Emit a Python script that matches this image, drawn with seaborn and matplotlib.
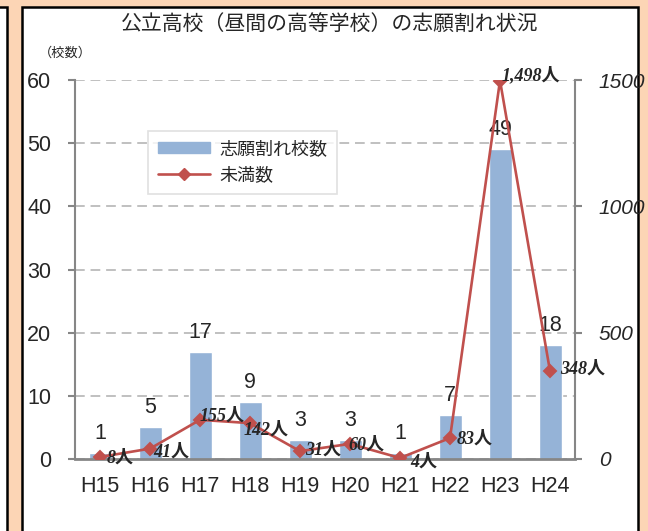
import matplotlib.pyplot as plt
import seaborn as sns
from matplotlib.lines import Line2D
from matplotlib.patches import Patch, Rectangle

# %% data
years = ["H15", "H16", "H17", "H18", "H19", "H20", "H21", "H22", "H23", "H24"]
schools = [1, 5, 17, 9, 3, 3, 1, 7, 49, 18]  # 志願割れ校数
shortfall = [8, 41, 155, 142, 31, 60, 4, 83, 1498, 348]  # 未満数 (人)
shortfall_labels = ["8人", "41人", "155人", "142人", "31人", "60人", "4人", "83人", "1,498人", "348人"]

# where each 人 label sits next to its point (pixels: right, down)
label_nudge = [(7, 1), (3, 3), (0, -4), (-6, 7), (5, -1), (-2, 1), (10, 4), (7, 1), (2, -5), (10, -2)]

bar_color = "#95B3D7"
line_color = "#C0504D"
axis_gray = "#868686"

# %%
sns.set_theme(style="white")
plt.rcParams["font.family"] = ["Liberation Sans", "Noto Sans CJK JP"]

fig = plt.figure(figsize=(6.48, 5.31), dpi=100)
fig.patch.set_facecolor("#FCD5B5")
W, H = 648, 531

# white panels with black outlines (main one and the neighbour on the left)
fig.add_artist(Rectangle((21.5 / W, -0.1), (638 - 21.5) / W, 1.1 - 7 / H,
                         transform=fig.transFigure, facecolor="white",
                         edgecolor="black", lw=1.8, zorder=-1))
fig.add_artist(Rectangle((-0.1, -0.1), 0.1 + 6.5 / W, 1.1 - 7 / H,
                         transform=fig.transFigure, facecolor="white",
                         edgecolor="black", lw=1.8, zorder=-1))

ax = fig.add_axes([75 / W, (H - 459) / H, 500 / W, 379 / H])
ax.patch.set_alpha(0)

sns.barplot(x=years, y=schools, color=bar_color, width=0.46, saturation=1, ax=ax)
ax.set_ylim(0, 60)
ax.set_yticks(range(0, 61, 10))
ax.set_axisbelow(True)
ax.yaxis.grid(True, linestyle=(0, (5, 3)), color="#C0C0C0", linewidth=1.4)
ax.xaxis.grid(False)
for c in ax.containers:
    ax.bar_label(c, padding=6.5, fontsize=15.5)

ax2 = ax.twinx()
sns.pointplot(x=years, y=shortfall, color=line_color, markers="D", linestyles="-",
              errorbar=None, markersize=6, linewidth=1.9, ax=ax2)
ax2.set_ylim(0, 1500)
ax2.set_yticks([0, 500, 1000, 1500])
for i, lab in enumerate(shortfall_labels):
    dx, dy = label_nudge[i]
    ax2.annotate(lab, (i, shortfall[i]), xytext=(dx * 0.72, -dy * 0.72),
                 textcoords="offset points", ha="left", va="center",
                 fontsize=13, fontstyle="italic", fontweight="bold",
                 family=["Liberation Serif", "Noto Sans CJK JP"])

ax.set_xlim(-0.5, 9.5)
ax.set_xlabel("")
ax.set_ylabel("")
ax2.set_xlabel("")
ax2.set_ylabel("")

for s in ["top", "right"]:
    ax.spines[s].set_visible(False)
ax.spines["left"].set_color(axis_gray)
ax.spines["left"].set_linewidth(1.5)
ax.spines["bottom"].set_color(axis_gray)
ax.spines["bottom"].set_linewidth(2)
for s in ["top", "left", "bottom"]:
    ax2.spines[s].set_visible(False)
ax2.spines["right"].set_color(axis_gray)
ax2.spines["right"].set_linewidth(1.5)

ax.tick_params(axis="y", left=True, length=5, width=1.5, color=axis_gray,
               direction="out", pad=12, labelsize=15.5)
ax.tick_params(axis="x", length=0, pad=12, labelsize=15.5)
ax2.tick_params(axis="y", right=True, length=5, width=1.5, color=axis_gray,
                direction="out", pad=12, labelsize=15)
for t in ax2.get_yticklabels():
    t.set_fontstyle("italic")

fig.text(330 / W, 1 - 24 / H, "公立高校（昼間の高等学校）の志願割れ状況",
         ha="center", va="center", fontsize=15)
fig.text(65 / W, 1 - 53 / H, "（校数）", ha="center", va="center", fontsize=9.5)

handles = [Patch(color=bar_color, label="志願割れ校数"),
           Line2D([], [], color=line_color, lw=1.9, marker="D", markersize=6,
                  label="未満数")]
leg = ax2.legend(handles=handles, loc="upper left",
                 bbox_to_anchor=(148 / W, 1 - 131 / H), bbox_transform=fig.transFigure,
                 borderaxespad=0, fontsize=13, frameon=True, fancybox=False,
                 handlelength=2.9, handleheight=0.6, labelspacing=0.5,
                 borderpad=0.55, handletextpad=0.5)
leg.get_frame().set_edgecolor("#D9D9D9")
leg.get_frame().set_linewidth(1.2)

fig.savefig("out.png", dpi=100)
